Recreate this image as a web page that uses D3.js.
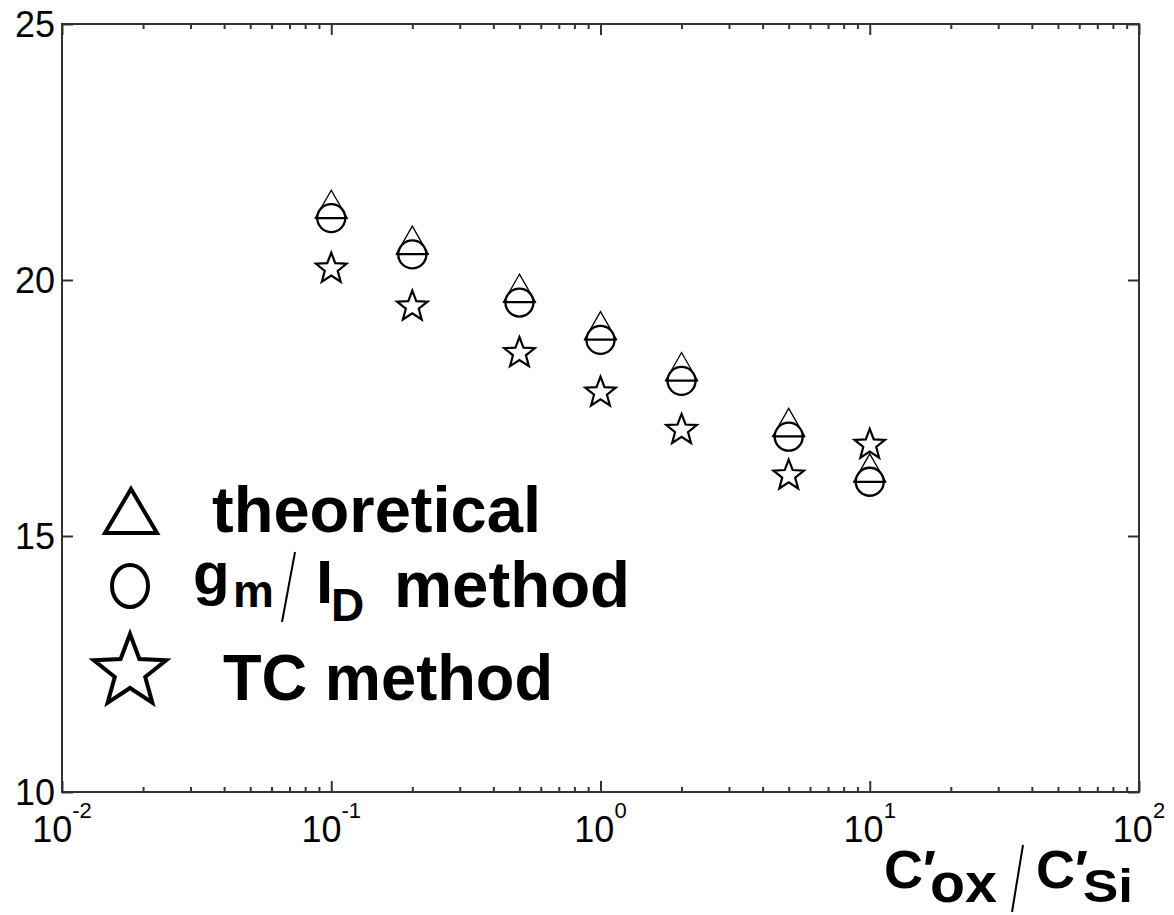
<!DOCTYPE html>
<html><head><meta charset="utf-8">
<script src="https://cdn.jsdelivr.net/npm/d3@7"></script>
<style>body{margin:0;background:#fff}svg{display:block}</style>
</head><body>
<svg id="c" width="1174" height="915"></svg>
<script>
// ---- data ----
const xValues = [0.1, 0.2, 0.5, 1, 2, 5, 10];
const theoretical = [21.48, 20.78, 19.84, 19.11, 18.31, 17.22, 16.33];
const gmIdMethod = [21.21, 20.50, 19.56, 18.83, 18.03, 16.94, 16.06];
const tcMethod = [20.25, 19.51, 18.60, 17.83, 17.10, 16.21, 16.81];
const yTickValues = [10, 15, 20, 25];
const xDecadeExponents = [-2, -1, 0, 1, 2];
const legendLabels = ["theoretical", "method", "TC method"];

const svg = d3.select("#c");
const L = 62, T = 24, R = 1139, B = 792;
const x = d3.scaleLog().domain([1e-2, 1e2]).range([L, R]);
const y = d3.scaleLinear().domain([10, 25]).range([B, T]);
const axisColor = "#333";
const font = "'Liberation Sans', Arial, Helvetica, sans-serif";

// minor / major x ticks
const majorX = xDecadeExponents.map(e => Math.pow(10, e));
const minorX = [];
for (let e = -2; e < 2; e++) for (let k = 2; k <= 9; k++) minorX.push(k * Math.pow(10, e));

function styleAxis(g) {
  g.select(".domain").remove();
  g.selectAll(".tick line").attr("stroke", axisColor).attr("stroke-width", 2);
  g.selectAll(".tick text").remove();
}
svg.append("g").attr("transform", `translate(0,${B})`)
  .call(d3.axisBottom(x).tickValues(minorX).tickSizeInner(-5).tickSizeOuter(0)).call(styleAxis);
svg.append("g").attr("transform", `translate(0,${B})`)
  .call(d3.axisBottom(x).tickValues(majorX).tickSizeInner(-11).tickSizeOuter(0)).call(styleAxis);
svg.append("g").attr("transform", `translate(0,${T})`)
  .call(d3.axisTop(x).tickValues(minorX).tickSizeInner(-5).tickSizeOuter(0)).call(styleAxis);
svg.append("g").attr("transform", `translate(0,${T})`)
  .call(d3.axisTop(x).tickValues(majorX).tickSizeInner(-11).tickSizeOuter(0)).call(styleAxis);
svg.append("g").attr("transform", `translate(${L},0)`)
  .call(d3.axisLeft(y).tickValues(yTickValues).tickSizeInner(-11).tickSizeOuter(0)).call(styleAxis);
svg.append("g").attr("transform", `translate(${R},0)`)
  .call(d3.axisRight(y).tickValues(yTickValues).tickSizeInner(-11).tickSizeOuter(0)).call(styleAxis);

svg.append("rect").attr("x", L).attr("y", T).attr("width", R - L).attr("height", B - T)
  .attr("fill", "none").attr("stroke", axisColor).attr("stroke-width", 2);

// y tick labels
svg.append("g").selectAll("text").data(yTickValues).join("text")
  .attr("x", 55).attr("y", d => y(d) + 13)
  .attr("text-anchor", "end").attr("font-family", font).attr("font-size", 36)
  .attr("fill", "#000").text(d => d);

// x tick labels 10^e
const xl = svg.append("g").selectAll("text").data(xDecadeExponents).join("text")
  .attr("x", d => x(Math.pow(10, d))).attr("y", 842)
  .attr("text-anchor", "middle").attr("font-family", font).attr("font-size", 36).attr("fill", "#000");
xl.append("tspan").text("10");
xl.append("tspan").attr("dy", -24).attr("font-size", 22).text(d => String(d));

// ---- markers ----
function starPath(Ro, Ri) {
  const p = [];
  for (let i = 0; i < 10; i++) {
    const r = i % 2 ? Ri : Ro;
    const a = -Math.PI / 2 + i * Math.PI / 5;
    p.push([r * Math.cos(a), r * Math.sin(a)]);
  }
  return "M" + p.map(q => q[0].toFixed(2) + "," + q[1].toFixed(2)).join("L") + "Z";
}
const triPath = (w, h) => `M0,${-h/2}L${w/2},${h/2}L${-w/2},${h/2}Z`;

svg.append("g").selectAll("path").data(xValues).join("path")
  .attr("d", triPath(32, 28))
  .attr("transform", (d, i) => `translate(${x(d)},${y(theoretical[i])})`)
  .attr("fill", "none").attr("stroke", "#000").attr("stroke-width", 1.3);

svg.append("g").selectAll("circle").data(xValues).join("circle")
  .attr("cx", d => x(d)).attr("cy", (d, i) => y(gmIdMethod[i])).attr("r", 14)
  .attr("fill", "#fff").attr("stroke", "#000").attr("stroke-width", 2.3);

// triangle bases (visible across circles)
svg.append("g").selectAll("line").data(xValues).join("line")
  .attr("x1", d => x(d) - 16).attr("x2", d => x(d) + 16)
  .attr("y1", (d, i) => y(theoretical[i]) + 14).attr("y2", (d, i) => y(theoretical[i]) + 14)
  .attr("stroke", "#000").attr("stroke-width", 2.2);

svg.append("g").selectAll("path").data(xValues).join("path")
  .attr("d", starPath(16, 6.8))
  .attr("transform", (d, i) => `translate(${x(d)},${y(tcMethod[i]) + 1.5})`)
  .attr("fill", "none").attr("stroke", "#000").attr("stroke-width", 2.2);

// ---- legend ----
const lg = svg.append("g").attr("font-family", font).attr("font-weight", "bold").attr("fill", "#000");
lg.append("path").attr("d", "M105,533L131,489L157,533Z").attr("fill", "none")
  .attr("stroke", "#000").attr("stroke-width", 4);
lg.append("text").attr("x", 212).attr("y", 532).attr("font-size", 64)
  .attr("textLength", 329).attr("lengthAdjust", "spacingAndGlyphs").text(legendLabels[0]);

lg.append("ellipse").attr("cx", 130).attr("cy", 586).attr("rx", 18).attr("ry", 21)
  .attr("fill", "none").attr("stroke", "#000").attr("stroke-width", 4);
const gm = lg.append("text").attr("x", 193).attr("y", 594).attr("font-size", 60);
gm.append("tspan").text("g");
gm.append("tspan").attr("x", 233).attr("dy", 13).attr("font-size", 46).text("m");
lg.append("line").attr("x1", 295).attr("y1", 552).attr("x2", 282).attr("y2", 622)
  .attr("stroke", "#000").attr("stroke-width", 2);
const id = lg.append("text").attr("x", 316).attr("y", 603).attr("font-size", 62);
id.append("tspan").text("I");
id.append("tspan").attr("x", 331).attr("dy", 18).attr("font-size", 46).text("D");
lg.append("text").attr("x", 394).attr("y", 607).attr("font-size", 64)
  .attr("textLength", 236).attr("lengthAdjust", "spacingAndGlyphs").text(legendLabels[1]);

lg.append("path").attr("d", starPath(38, 16)).attr("transform", "translate(130,672)")
  .attr("fill", "none").attr("stroke", "#000").attr("stroke-width", 4);
lg.append("text").attr("x", 223).attr("y", 700).attr("font-size", 64)
  .attr("textLength", 330).attr("lengthAdjust", "spacingAndGlyphs").text(legendLabels[2]);

// ---- x label ----
const xg = svg.append("g").attr("font-family", font).attr("font-weight", "bold").attr("fill", "#000");
const c1 = xg.append("text").attr("x", 884).attr("y", 888).attr("font-size", 54);
c1.append("tspan").text("C′");
c1.append("tspan").attr("x", 930).attr("dy", 14).attr("font-size", 56)
  .attr("textLength", 67).attr("lengthAdjust", "spacingAndGlyphs").text("ox");
xg.append("line").attr("x1", 1023).attr("y1", 845).attr("x2", 1012).attr("y2", 912)
  .attr("stroke", "#000").attr("stroke-width", 2);
const c2 = xg.append("text").attr("x", 1036).attr("y", 888).attr("font-size", 54);
c2.append("tspan").text("C′");
c2.append("tspan").attr("x", 1083).attr("dy", 14).attr("font-size", 46)
  .attr("textLength", 50).attr("lengthAdjust", "spacingAndGlyphs").text("Si");
</script>
</body></html>
